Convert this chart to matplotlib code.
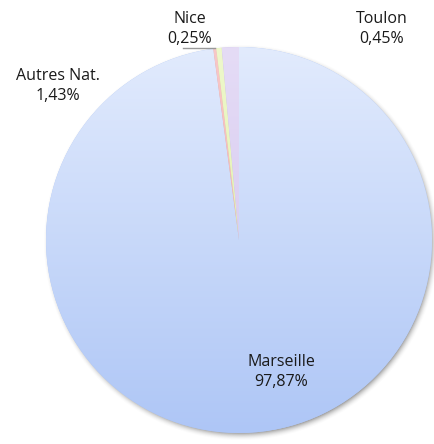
import numpy as np
import matplotlib.pyplot as plt
from matplotlib.colors import LinearSegmentedColormap

labels = ['Marseille', 'Nice', 'Toulon', 'Autres Nat.']
values = [97.87, 0.25, 0.45, 1.43]
pct_txt = ['97,87%', '0,25%', '0,45%', '1,43%']
# gradient top -> bottom colours for each slice
top_cols = ['#e2ebfd', '#f8c8c8', '#eef8cc', '#e5dcf6']
bot_cols = ['#aec6f6', '#eea8a8', '#dcee9c', '#cfc0ec']

W, H = 435, 444
cx, cy, r = 239, H - 240, 193

fig = plt.figure(figsize=(W / 100, H / 100), dpi=100)
ax = fig.add_axes([0, 0, 1, 1])

# soft shadow, offset to the bottom-right
xx, yy = np.meshgrid(np.arange(W) + 0.5, np.arange(H) + 0.5)
d = np.hypot(xx - (cx + 2), yy - (cy - 3))
t = np.clip((d - (r - 3)) / 8, 0, 1)
alpha = 0.5 * (1 - t) ** 2
shadow = np.zeros((H, W, 4))
shadow[..., :3] = 0.3
shadow[..., 3] = alpha
ax.imshow(shadow, extent=(0, W, 0, H), origin='lower', zorder=1,
          interpolation='bilinear')

wedges, _ = ax.pie(values, startangle=90, counterclock=False, center=(cx, cy),
                   radius=r, colors=bot_cols,
                   wedgeprops=dict(edgecolor='none', linewidth=0))
ax.set_xlim(0, W)
ax.set_ylim(0, H)
ax.set_aspect('equal')
ax.axis('off')

grad = np.linspace(0, 1, 256).reshape(-1, 1)
for w, c0, c1 in zip(wedges, top_cols, bot_cols):
    w.set_zorder(2)
    cmap = LinearSegmentedColormap.from_list('g', [c0, c1])
    im = ax.imshow(grad, cmap=cmap, extent=(cx - r, cx + r, cy - r, cy + r),
                   origin='upper', aspect='auto', zorder=3)
    im.set_clip_path(w)

fnt = dict(fontsize=11.5, family=['Open Sans', 'DejaVu Sans'], color='#1a1a1a',
           ha='center', va='center', linespacing=1.3)
ax.text(281, H - 372, labels[0] + '\n' + pct_txt[0], **fnt)
ax.text(190, H - 29, labels[1] + '\n' + pct_txt[1], **fnt)
ax.text(382, H - 29, labels[2] + '\n' + pct_txt[2], **fnt)
ax.text(58, H - 86, labels[3] + '\n' + pct_txt[3], **fnt)
ax.plot([183, 215], [H - 48, H - 48], color='#999999', lw=1, zorder=5)

fig.savefig('out.png', dpi=100)
